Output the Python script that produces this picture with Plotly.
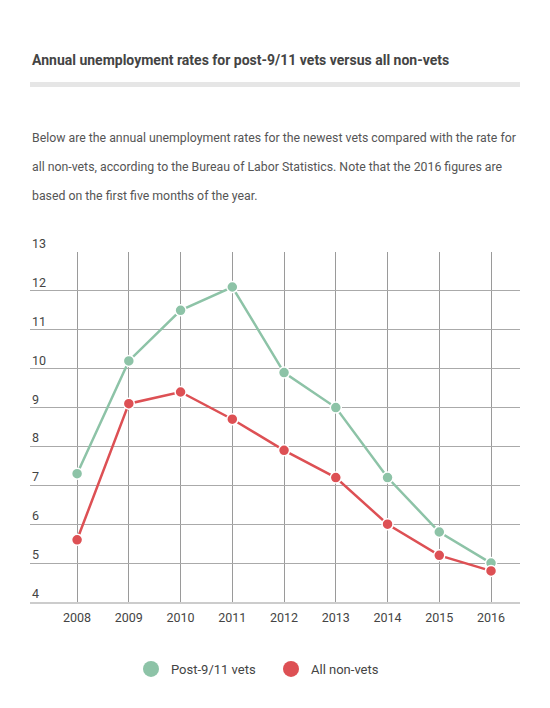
import plotly.graph_objects as go

# data
years = [2008, 2009, 2010, 2011, 2012, 2013, 2014, 2015, 2016]
post911_vets = [7.3, 10.2, 11.5, 12.1, 9.9, 9.0, 7.2, 5.8, 5.0]
all_non_vets = [5.6, 9.1, 9.4, 8.7, 7.9, 7.2, 6.0, 5.2, 4.8]
y_ticks = [4, 5, 6, 7, 8, 9, 10, 11, 12, 13]

series_names = ["Post-9/11 vets", "All non-vets"]
series_colors = ["#8dc3a7", "#dd5054"]

title_text = "Annual unemployment rates for post-9/11 vets versus all non-vets"
body_lines = [
    "Below are the annual unemployment rates for the newest vets compared with the rate for",
    "all non-vets, according to the Bureau of Labor Statistics. Note that the 2016 figures are",
    "based on the first five months of the year.",
]

# the page body has an 8px margin, so the figure is drawn 8px smaller and
# all positions below are given in window pixels and shifted by OFF
OFF = 8
W, H = 550 - 2 * OFF, 708 - 2 * OFF
PLOT_LEFT, PLOT_RIGHT = 30 - OFF, 520 - OFF
PLOT_TOP, PLOT_BOTTOM = 252 - OFF, 602 - OFF


def py(win_y):
    # window pixel row -> paper coordinate of the plot area
    return (PLOT_BOTTOM - (win_y - OFF)) / (PLOT_BOTTOM - PLOT_TOP)


def px(win_x):
    return ((win_x - OFF) - PLOT_LEFT) / (PLOT_RIGHT - PLOT_LEFT)


fig = go.Figure()

for name, vals, col in zip(series_names, [post911_vets, all_non_vets], series_colors):
    fig.add_trace(go.Scatter(
        x=years, y=vals, mode="lines+markers", name=name, showlegend=False,
        line=dict(color=col, width=2.5),
        marker=dict(color=col, size=11, line=dict(color="white", width=1.5)),
        hoverinfo="x+y"))

# bigger markers for the legend only
for name, col in zip(series_names, series_colors):
    fig.add_trace(go.Scatter(
        x=[None], y=[None], mode="markers", name=name,
        marker=dict(color=col, size=16)))

annotations = [dict(
    text="<b>" + title_text + "</b>", x=0, y=py(60), xref="paper", yref="paper",
    xanchor="left", yanchor="middle", showarrow=False,
    font=dict(family="Roboto", size=14, color="#444444"))]

for i, line in enumerate(body_lines):
    annotations.append(dict(
        text=line, x=0, y=py(138 + 29 * i), xref="paper", yref="paper",
        xanchor="left", yanchor="middle", showarrow=False,
        font=dict(family="Roboto", size=12.3, color="#555555")))

# y tick labels sit above their gridlines, at the left edge of the plot
for v in y_ticks:
    annotations.append(dict(
        text=str(v), x=0, y=v, xref="paper", yref="y",
        xanchor="left", yanchor="bottom", yshift=-1, showarrow=False,
        font=dict(family="Roboto", size=12.5, color="#444444")))

fig.update_layout(
    width=W, height=H,
    margin=dict(l=PLOT_LEFT, r=W - PLOT_RIGHT, t=PLOT_TOP, b=H - PLOT_BOTTOM),
    paper_bgcolor="white", plot_bgcolor="white",
    font=dict(family="Roboto", color="#444444"),
    annotations=annotations,
    shapes=[dict(type="rect", xref="paper", yref="paper", x0=0, x1=1,
                 y0=py(87), y1=py(82), fillcolor="#e6e6e6", line=dict(width=0))],
    legend=dict(orientation="h", x=px(131), xanchor="left", y=py(669), yanchor="middle",
                font=dict(size=13, color="#444444"), itemwidth=30,
                entrywidth=95, entrywidthmode="pixels"),
    xaxis=dict(range=[2007.09, 2016.56], tickvals=years, ticktext=[str(y) for y in years],
               showgrid=True, gridcolor="#9a9a9a", gridwidth=1, zeroline=False,
               showline=True, linecolor="#cccccc", linewidth=1.5,
               tickfont=dict(size=12.5, color="#444444"), ticks="", ticklabelstandoff=3),
    yaxis=dict(range=[4, 13], tickvals=y_ticks, showgrid=True, gridcolor="#aaaaaa",
               gridwidth=1, zeroline=False, showticklabels=False, ticks=""),
)

fig.write_html("out.html")
